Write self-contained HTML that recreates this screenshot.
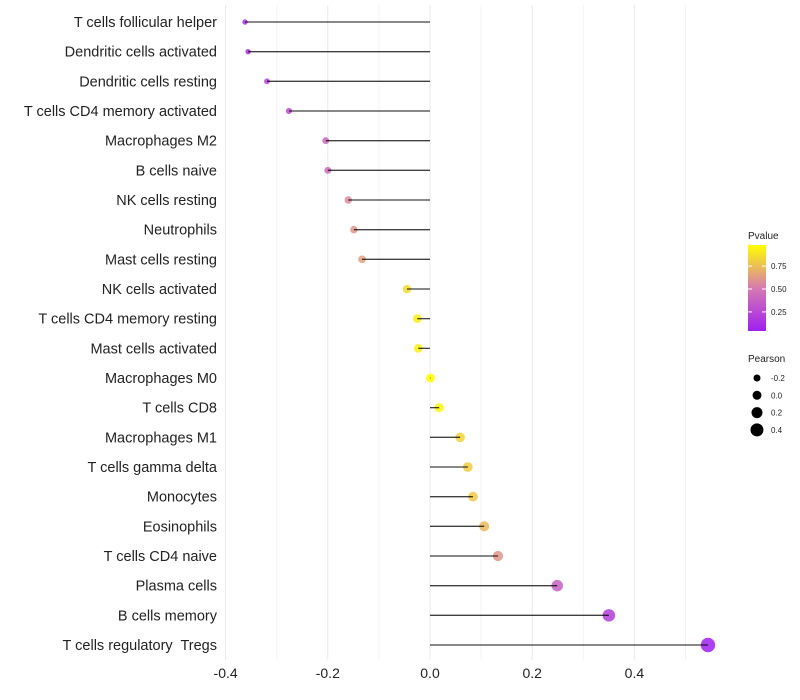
<!DOCTYPE html>
<html><head><meta charset="utf-8"><style>
body{margin:0;background:#fff;font-family:"Liberation Sans",sans-serif}
svg{display:block}
text{white-space:pre}
</style></head><body>
<svg id="chart" width="800" height="700" xmlns="http://www.w3.org/2000/svg"></svg>
<script>
const categories=["T cells follicular helper","Dendritic cells activated","Dendritic cells resting","T cells CD4 memory activated","Macrophages M2","B cells naive","NK cells resting","Neutrophils","Mast cells resting","NK cells activated","T cells CD4 memory resting","Mast cells activated","Macrophages M0","T cells CD8","Macrophages M1","T cells gamma delta","Monocytes","Eosinophils","T cells CD4 naive","Plasma cells","B cells memory","T cells regulatory  Tregs"];
const pearson=[-0.362,-0.356,-0.319,-0.276,-0.204,-0.200,-0.160,-0.149,-0.133,-0.045,-0.025,-0.023,0.001,0.018,0.059,0.074,0.084,0.106,0.133,0.249,0.350,0.544];
const pvalue=[0.1,0.12,0.2,0.26,0.42,0.43,0.55,0.6,0.64,0.85,0.92,0.92,0.99,0.95,0.82,0.8,0.78,0.72,0.6,0.36,0.18,0.02];
const xTicks=[-0.4,-0.2,0.0,0.2,0.4];
const pTicks=[0.25,0.5,0.75];
const sizeTicks=[-0.2,0.0,0.2,0.4];
const NS="http://www.w3.org/2000/svg";
const svg=document.getElementById('chart');
function mk(t,a,p){const e=document.createElementNS(NS,t);for(const k in a)e.setAttribute(k,a[k]);(p||svg).appendChild(e);return e;}
const x=v=>430+v*511;
const y=i=>22+i*(623/21);
const r=v=>4.5+v*5;
function lerp(a,b,t){return Math.round(a+(b-a)*t);}
function col(p){const t=Math.max(0,Math.min(1,(p-0.02)/0.96));
 const s=[[160,32,240],[214,122,176],[255,255,0]];let a,b,u;
 if(t<0.5){a=s[0];b=s[1];u=t/0.5}else{a=s[1];b=s[2];u=(t-0.5)/0.5}
 return `rgb(${lerp(a[0],b[0],u)},${lerp(a[1],b[1],u)},${lerp(a[2],b[2],u)})`;}
for(let v=-0.4;v<=0.51;v+=0.1){const g=mk('line',{x1:x(v),x2:x(v),y1:5,y2:660,stroke:Math.abs(Math.round(v*10))%2==0?'#e8e8e8':'#f3f3f3','stroke-width':1});
}
xTicks.forEach(v=>{const t=mk('text',{x:x(v),y:678,'text-anchor':'middle','font-size':14,fill:'#222'});t.textContent=v.toFixed(1);
});
categories.forEach((c,i)=>{
 const t=mk('text',{x:217,y:y(i)+5,'text-anchor':'end','font-size':14.5,fill:'#222'});t.textContent=c;
 
 const d=mk('circle',{cx:x(pearson[i]),cy:y(i),r:Math.max(1.5,r(pearson[i])),fill:col(pvalue[i]),'fill-opacity':0.85});
 
 const l=mk('line',{x1:x(0),x2:x(pearson[i]),y1:y(i),y2:y(i),stroke:'#000','stroke-opacity':0.75,'stroke-width':1.3});
 
});
const defs=mk('defs',{});const gr=mk('linearGradient',{id:'pg',x1:0,y1:1,x2:0,y2:0},defs);
[0,0.25,0.5,0.75,1].forEach(o=>mk('stop',{offset:o,'stop-color':col(0.02+o*0.96)},gr));
let tt=mk('text',{x:748,y:239,'font-size':10,fill:'#222'});tt.textContent='Pvalue';

const cb=mk('rect',{x:748,y:245,width:18,height:86,fill:'url(#pg)'});

pTicks.forEach(p=>{const yy=333-(p-0.02)/0.96*88;
 mk('line',{x1:748,x2:752,y1:yy,y2:yy,stroke:'#fff'});mk('line',{x1:762,x2:766,y1:yy,y2:yy,stroke:'#fff'});
 const t=mk('text',{x:771,y:yy+3,'font-size':8,fill:'#222'});t.textContent=p.toFixed(2);
 });
tt=mk('text',{x:748,y:362,'font-size':10,fill:'#222'});tt.textContent='Pearson';

sizeTicks.forEach((s,i)=>{const yy=378+i*17.3;
 const c=mk('circle',{cx:757,cy:yy,r:r(s),fill:'#000'});
 const t=mk('text',{x:771,y:yy+3,'font-size':8,fill:'#222'});t.textContent=s.toFixed(1);
 });
</script>
</body></html>
